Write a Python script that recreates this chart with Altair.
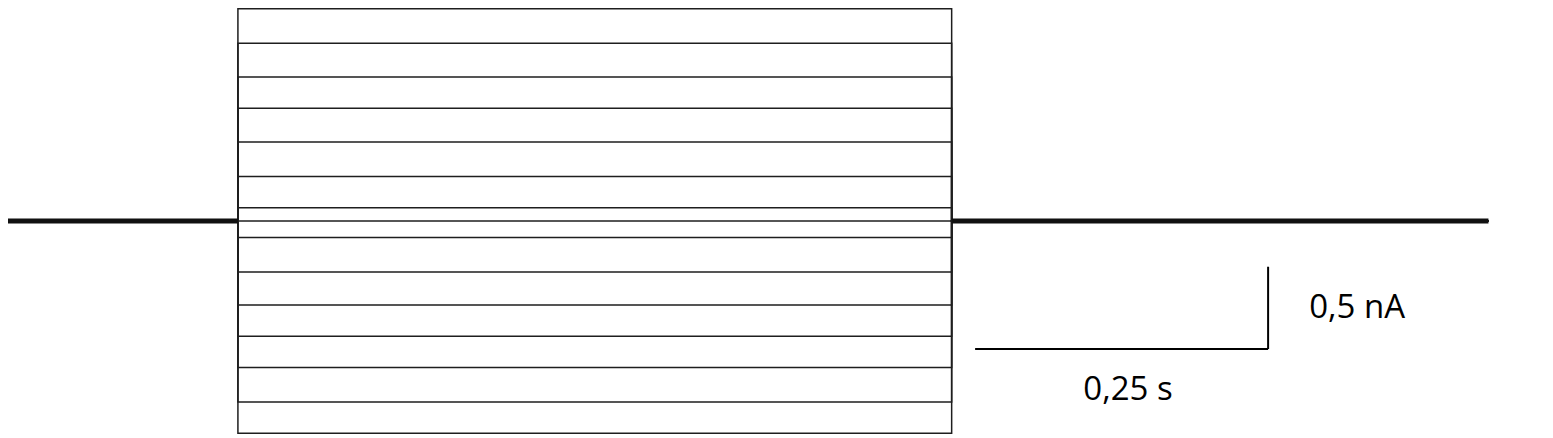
import altair as alt
import pandas as pd

# Current-step levels (nA) of the 15 traces
levels = [1.29, 1.08, 0.875, 0.685, 0.48, 0.27, 0.08, 0.0,
          -0.10, -0.31, -0.51, -0.70, -0.89, -1.10, -1.29]

# Protocol timing (s)
t_start, t_on, t_off, t_end = 0.0, 0.203, 0.812, 1.270

# Scale bar (time s, current nA) and labels
bar_t0, bar_dt = 0.832, 0.25
bar_i0, bar_di = -0.778, 0.5
label_i_text, label_i_t, label_i_y = "0,5 nA", 1.158, -0.529
label_t_text, label_t_t, label_t_y = "0,25 s", 0.9625, -1.027

# Axis domains
x_domain = [0.006826, 1.31826]
y_domain = [-1.31915, 1.29483]

rows = []
for k, lv in enumerate(levels):
    pts = [(t_start, 0.0), (t_on, 0.0), (t_on, lv), (t_off, lv), (t_off, 0.0), (t_end, 0.0)]
    for j, (t, i) in enumerate(pts):
        rows.append({"trace": k, "idx": j, "t": t, "i": i})
traces = pd.DataFrame(rows)

base = pd.DataFrame({
    "seg": [0, 0, 1, 1],
    "t": [t_start, t_on, t_off, t_end],
    "i": [0.0, 0.0, 0.0, 0.0],
})

bar = pd.DataFrame({
    "t": [bar_t0, bar_t0 + bar_dt],
    "t2": [bar_t0 + bar_dt, bar_t0 + bar_dt],
    "i": [bar_i0, bar_i0],
    "i2": [bar_i0, bar_i0 + bar_di],
})

labels = pd.DataFrame({
    "text": [label_i_text, label_t_text],
    "t": [label_i_t, label_t_t],
    "i": [label_i_y, label_t_y],
})

xs = alt.Scale(domain=x_domain, nice=False, zero=False)
ys = alt.Scale(domain=y_domain, nice=False, zero=False)

trace_layer = alt.Chart(traces).mark_line(
    color="#1e1e1e", strokeWidth=1.5, clip=True
).encode(
    x=alt.X("t:Q", scale=xs, axis=None),
    y=alt.Y("i:Q", scale=ys, axis=None),
    detail="trace:N",
    order=alt.Order("idx:Q"),
)

base_layer = alt.Chart(base).mark_line(
    color="#111111", strokeWidth=5, clip=True
).encode(
    x=alt.X("t:Q", scale=xs, axis=None),
    y=alt.Y("i:Q", scale=ys, axis=None),
    detail="seg:N",
)

bar_layer = alt.Chart(bar).mark_rule(color="#000000", strokeWidth=2).encode(
    x=alt.X("t:Q", scale=xs, axis=None),
    x2="t2:Q",
    y=alt.Y("i:Q", scale=ys, axis=None),
    y2="i2:Q",
)

text_layer = alt.Chart(labels).mark_text(
    font="Open Sans", fontSize=33, color="#000000", align="center", baseline="middle"
).encode(
    x=alt.X("t:Q", scale=xs, axis=None),
    y=alt.Y("i:Q", scale=ys, axis=None),
    text="text:N",
)

chart = alt.layer(trace_layer, base_layer, bar_layer, text_layer).properties(
    width=1537, height=430,
    autosize=alt.AutoSizeParams(type="none"),
    padding=0,
    background="white",
).configure_view(stroke=None)

chart.save("out.html", embed_options={"renderer": "svg", "actions": False})
